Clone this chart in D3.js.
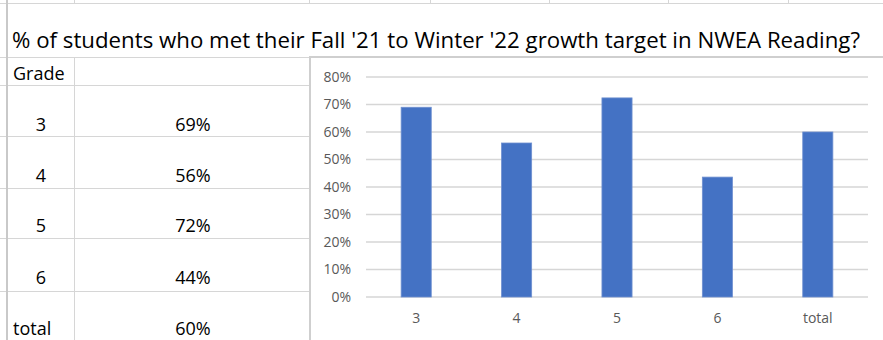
<!DOCTYPE html>
<html lang="en">
<head>
    <meta charset="UTF-8">
    <title>NWEA Reading growth</title>
    <style>
        body, html {
            margin: 0;
            padding: 0;
            background-color: #ffffff;
        }
        svg text {
            font-family: "Open Sans", "Noto Sans", sans-serif;
        }
    </style>
</head>
<body>
    <div id="sheet"></div>

    <script src="https://d3js.org/d3.v7.min.js"></script>
    <script>
        // Data
        const title = "% of students who met their Fall '21 to Winter '22 growth target in NWEA Reading?";
        const headerLabel = "Grade";
        const grades = ["3", "4", "5", "6", "total"];
        const metTarget = [0.69, 0.56, 0.724, 0.436, 0.60];
        const yTicks = [0, 0.1, 0.2, 0.3, 0.4, 0.5, 0.6, 0.7, 0.8];

        const W = 883, H = 340;
        const gridColor = "#d6d6d6";
        const pct = d3.format(".0%");

        const svg = d3.select("#sheet").append("svg")
            .attr("width", W)
            .attr("height", H);

        // spreadsheet cell borders
        const cells = svg.append("g").attr("stroke", gridColor);

        // top strip row and its column lines
        cells.append("line").attr("x1", 0).attr("x2", W).attr("y1", 3.5).attr("y2", 3.5);
        [74, 309, 430, 549, 668, 788].forEach(x => {
            cells.append("line").attr("x1", x + 0.5).attr("x2", x + 0.5).attr("y1", 0).attr("y2", 4);
        });

        // table rows (header row, then one row per grade)
        const rowLines = [57, 85, 136, 188, 238, 291];
        rowLines.forEach(y => {
            cells.append("line").attr("x1", 0).attr("x2", 310).attr("y1", y + 0.5).attr("y2", y + 0.5);
        });
        cells.append("line").attr("x1", 74.5).attr("x2", 74.5).attr("y1", 57).attr("y2", H);
        cells.append("line").attr("x1", 7).attr("x2", 7).attr("y1", 0).attr("y2", H)
            .attr("stroke", "#c9c9c9").attr("stroke-width", 2);

        // title: shrink the font until it fits the row, then stretch to the exact width
        const titleText = svg.append("text")
            .attr("x", 12)
            .attr("y", 48)
            .style("font-size", "24px")
            .attr("fill", "#000")
            .text(title);
        const natural = titleText.node().getComputedTextLength();
        const titleSize = Math.min(24, 24 * 848 / natural);
        titleText.style("font-size", titleSize + "px")
            .attr("textLength", 848)
            .attr("lengthAdjust", "spacingAndGlyphs");

        // table text
        const table = svg.append("g").style("font-size", "18px").attr("fill", "#000");
        table.append("text").attr("x", 13).attr("y", 80).text(headerLabel);

        const baselines = [131, 182, 232, 284, 335];
        grades.forEach((g, i) => {
            const isText = isNaN(+g);
            table.append("text")
                .attr("x", isText ? 13 : 41)
                .attr("y", baselines[i])
                .attr("text-anchor", isText ? "start" : "middle")
                .text(g);
            table.append("text")
                .attr("x", 193)
                .attr("y", baselines[i])
                .attr("text-anchor", "middle")
                .text(pct(metTarget[i]));
        });

        // chart object
        svg.append("rect")
            .attr("x", 310)
            .attr("y", 57)
            .attr("width", W - 310 + 5)
            .attr("height", H - 57 + 5)
            .attr("fill", "#fff")
            .attr("stroke", "#cfcfcf")
            .attr("stroke-width", 2);

        const x = d3.scaleBand()
            .domain(grades)
            .range([366, 868])
            .paddingInner(0.7)
            .paddingOuter(0.35);

        const y = d3.scaleLinear()
            .domain([0, 0.8])
            .range([297, 77]);

        // gridlines
        svg.append("g")
            .selectAll("line")
            .data(yTicks)
            .join("line")
            .attr("x1", 366)
            .attr("x2", 868)
            .attr("y1", d => y(d))
            .attr("y2", d => y(d))
            .attr("stroke", gridColor)
            .attr("stroke-width", 1.5);

        // y axis labels
        const yAxis = svg.append("g")
            .attr("transform", "translate(366,0)")
            .call(d3.axisLeft(y).tickValues(yTicks).tickFormat(pct).tickSize(0).tickPadding(15));
        yAxis.select(".domain").remove();
        yAxis.selectAll("text")
            .style("font-size", "14px")
            .style("font-family", "'Open Sans', sans-serif")
            .attr("fill", "#595959");

        // x axis labels
        const xAxis = svg.append("g")
            .attr("transform", "translate(0,297)")
            .call(d3.axisBottom(x).tickSize(0).tickPadding(16));
        xAxis.select(".domain").remove();
        xAxis.selectAll("text")
            .style("font-size", "14px")
            .style("font-family", "'Open Sans', sans-serif")
            .attr("fill", "#595959");

        // bars
        svg.append("g")
            .selectAll("rect")
            .data(metTarget)
            .join("rect")
            .attr("x", (d, i) => x(grades[i]))
            .attr("y", d => y(d))
            .attr("width", x.bandwidth())
            .attr("height", d => y(0) - y(d))
            .attr("fill", "#4472c4")
            .attr("stroke", "#6f90d0")
            .attr("stroke-width", 0.8);
    </script>
</body>
</html>
